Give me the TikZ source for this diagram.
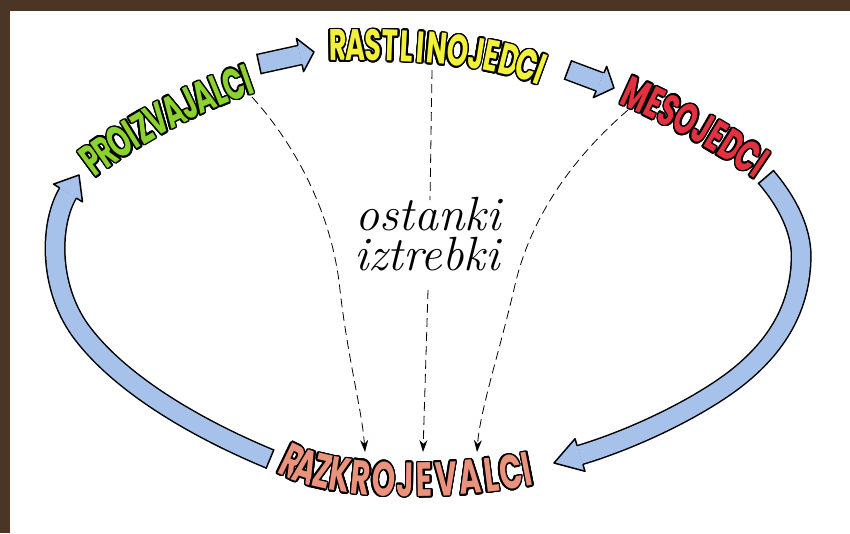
\documentclass[tikz,border=0pt]{standalone}
\usepackage{fontspec}
\usepackage{contour}
\usetikzlibrary{calc,arrows.meta}
\newfontfamily\comicfont[FakeStretch=0.62]{Poppins}
\contourlength{1.5pt}
\contournumber{20}
\definecolor{bordbrown}{HTML}{4B3525}
\definecolor{greenL}{HTML}{8CD22E}
\definecolor{yellowL}{HTML}{F2F03A}
\definecolor{redL}{HTML}{E3323F}
\definecolor{salmonL}{HTML}{EA927C}
\definecolor{arrowblue}{HTML}{A6C2EA}
\tikzset{
 letter/.style={sloped, inner sep=0pt, anchor=center, font=\comicfont\bfseries\fontsize{44}{44}\selectfont},
 bigletter/.style={letter, font=\comicfont\bfseries\fontsize{48}{48}\selectfont},
 bluearrow/.style={draw=black, line width=1.5pt, double=arrowblue, double distance=18pt},
 dashline/.style={draw=black, line width=0.8pt, dash pattern=on 9pt off 5pt},
 dasharrow/.style={dashline, -{Stealth[length=12pt,width=8pt]}},
 script/.style={font=\itshape\fontsize{48}{48}\selectfont, inner sep=0pt, anchor=base}
}
\newcommand\arcword[6]{\foreach \letr/\p in {#6}{\path (#1) .. controls (#2) and (#3) .. (#4) node[#5, pos=\p] {\contour{black}{\letr}};}}
\newcommand\bhead[2]{%
 \fill[arrowblue] ($(#1)!9.8pt!90:(#2)$) -- ($(#1)!17pt!90:(#2)$) -- (#2) -- ($(#1)!17pt!-90:(#2)$) -- ($(#1)!9.8pt!-90:(#2)$) -- cycle;
 \draw[line width=1.5pt, line join=round] ($(#1)!9.8pt!90:(#2)$) -- ($(#1)!17pt!90:(#2)$) -- (#2) -- ($(#1)!17pt!-90:(#2)$) -- ($(#1)!9.8pt!-90:(#2)$);}
\newcommand\btail[2]{\draw[line width=1.5pt] ($(#1)!10.5pt!90:(#2)$) -- ($(#1)!10.5pt!-90:(#2)$);}
\begin{document}
\begin{tikzpicture}[x=1pt,y=-1pt]
\useasboundingbox (0,0) rectangle (850,533);
\fill[white] (0,0) rectangle (850,533);
\fill[bordbrown] (0,0) rectangle (850,11);
\fill[bordbrown] (0,0) rectangle (10,533);

% blue arrows
\coordinate (A1) at (259,64); \coordinate (B1) at (300,55); \coordinate (T1) at (314,52);
\draw[bluearrow] (A1) -- (B1); \btail{A1}{B1}; \bhead{B1}{T1};

\coordinate (A2) at (568,70); \coordinate (B2) at (600,82); \coordinate (T2) at (614,88);
\draw[bluearrow] (A2) -- (B2); \btail{A2}{B2}; \bhead{B2}{T2};

\coordinate (A3) at (766,177); \coordinate (B3) at (580,455); \coordinate (T3) at (554,463);
\draw[bluearrow] (A3) .. controls (790,205) and (803,235) .. (801,262) .. controls (799,310) and (775,350) .. (730,383) .. controls (690,412) and (630,440) .. (B3);
\btail{A3}{790,205}; \bhead{B3}{T3};

\coordinate (A4) at (270,459); \coordinate (B4) at (68,193); \coordinate (T4) at (79,175);
\draw[bluearrow] (A4) .. controls (200,430) and (120,385) .. (80,330) .. controls (48,285) and (50,223) .. (B4);
\btail{A4}{200,430}; \bhead{B4}{T4};

% dashed arrows
\coordinate (dl0) at (252,97); \coordinate (dl1) at (365,452);
\draw[dasharrow] (dl0) .. controls (300,150) and (333,220) .. (340,290) .. controls (348,360) and (362,410) .. (dl1);
\coordinate (dm0) at (432,70); \coordinate (dm1) at (430,200);
\coordinate (dm2) at (428,290); \coordinate (dm3) at (423,452);
\draw[dashline] (dm0) -- (dm1);
\draw[dasharrow] (dm2) -- (dm3);
\coordinate (dr0) at (628,110); \coordinate (dr1) at (477,452);
\draw[dasharrow] (dr0) .. controls (570,160) and (530,220) .. (515,285) .. controls (500,350) and (480,410) .. (dr1);

% middle text
\node[script] (ost) at (428,230) {ostanki};
\node[script] (izt) at (427,270) {iztrebki};

% words
\arcword{93,161}{135,130}{190,100}{247,80}{letter,text=greenL}{P/0,R/0.0975,O/0.2013,I/0.284,Z/0.3586,V/0.4554,A/0.5573,J/0.6497,A/0.742,L/0.8344,C/0.9236,I/1}
\arcword{338,46}{400,45}{480,48}{540,70}{letter,text=yellowL}{R/0,A/0.0937,S/0.1826,T/0.2656,L/0.3456,I/0.4108,N/0.4861,O/0.5851,J/0.674,E/0.751,D/0.837,C/0.9289,I/1}
\arcword{636,95}{680,115}{720,138}{760,165}{letter,text=redL}{M/0,E/0.1391,S/0.2565,O/0.3913,J/0.5217,E/0.6348,D/0.7609,C/0.8957,I/1}
\arcword{292,462}{340,485}{450,485}{527,470}{bigletter,text=salmonL}{R/0,A/0.0891,Z/0.1748,K/0.2606,R/0.3497,O/0.4416,J/0.5262,E/0.5995,V/0.6813,A/0.7716,L/0.8533,C/0.9323,I/1}
\end{tikzpicture}
\end{document}
